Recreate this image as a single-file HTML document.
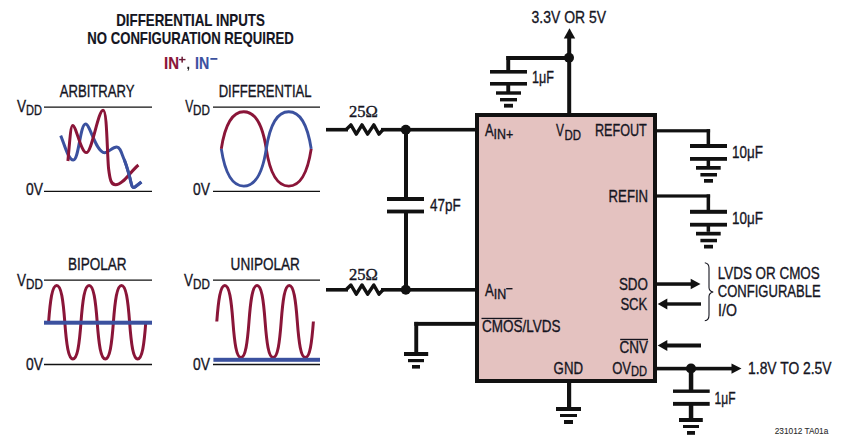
<!DOCTYPE html>
<html><head><meta charset="utf-8"><style>
html,body{margin:0;padding:0;background:#fff;}
svg{display:block;}
text{font-family:"Liberation Sans",sans-serif;}
</style></head><body>
<svg width="847" height="442" viewBox="0 0 847 442">
<rect width="847" height="442" fill="#fff"/>
<text x="116.20" y="25.50" font-size="15.99" textLength="148.70" lengthAdjust="spacingAndGlyphs" font-weight="bold" fill="#15151f" stroke="#15151f" stroke-width="0.15">DIFFERENTIAL INPUTS</text>
<text x="87.30" y="43.50" font-size="15.99" textLength="206.40" lengthAdjust="spacingAndGlyphs" font-weight="bold" fill="#15151f" stroke="#15151f" stroke-width="0.15">NO CONFIGURATION REQUIRED</text>
<text x="164.00" y="68.60" font-size="16.86" textLength="15.00" lengthAdjust="spacingAndGlyphs" font-weight="bold" fill="#8a1538" stroke="#8a1538" stroke-width="0.15">IN</text>
<rect x="179.1" y="58.9" width="6.4" height="1.4" fill="#6a1a35"/>
<rect x="181.4" y="56.7" width="1.5" height="5.9" fill="#6a1a35"/>
<path d="M187.4,66.8 h1.8 v1.9 q0,1.6 -1.2,2.2 l-0.4,-0.5 q0.6,-0.4 0.7,-1.3 h-0.9 z" fill="#222"/>
<text x="195.00" y="68.60" font-size="16.86" textLength="14.20" lengthAdjust="spacingAndGlyphs" font-weight="bold" fill="#3b519f" stroke="#3b519f" stroke-width="0.15">IN</text>
<rect x="210.4" y="58.0" width="7.0" height="1.8" fill="#3b519f"/>
<text x="59.70" y="96.80" font-size="16.72" textLength="74.80" lengthAdjust="spacingAndGlyphs" fill="#15151f" stroke="#15151f" stroke-width="0.35">ARBITRARY</text>
<text x="17.10" y="111.80" font-size="17.01" textLength="9.10" lengthAdjust="spacingAndGlyphs" fill="#15151f" stroke="#15151f" stroke-width="0.35">V</text>
<text x="26.06" y="114.60" font-size="13.81" textLength="15.95" lengthAdjust="spacingAndGlyphs" fill="#15151f" stroke="#15151f" stroke-width="0.35">DD</text>
<line x1="44" y1="107.2" x2="152" y2="107.2" stroke="#111" stroke-width="1.3"/>
<text x="26.04" y="194.80" font-size="17.15" textLength="16.94" lengthAdjust="spacingAndGlyphs" fill="#15151f" stroke="#15151f" stroke-width="0.35">0V</text>
<line x1="44" y1="191.3" x2="152" y2="191.3" stroke="#111" stroke-width="1.3"/>
<text x="218.70" y="97.00" font-size="16.72" textLength="92.90" lengthAdjust="spacingAndGlyphs" fill="#15151f" stroke="#15151f" stroke-width="0.35">DIFFERENTIAL</text>
<text x="185.20" y="111.80" font-size="17.01" textLength="8.08" lengthAdjust="spacingAndGlyphs" fill="#15151f" stroke="#15151f" stroke-width="0.35">V</text>
<text x="193.09" y="114.60" font-size="13.81" textLength="16.83" lengthAdjust="spacingAndGlyphs" fill="#15151f" stroke="#15151f" stroke-width="0.35">DD</text>
<line x1="213" y1="107.2" x2="320" y2="107.2" stroke="#111" stroke-width="1.3"/>
<text x="193.06" y="194.80" font-size="17.15" textLength="16.93" lengthAdjust="spacingAndGlyphs" fill="#15151f" stroke="#15151f" stroke-width="0.35">0V</text>
<line x1="213" y1="191.3" x2="320" y2="191.3" stroke="#111" stroke-width="1.3"/>
<text x="67.90" y="270.00" font-size="16.72" textLength="58.60" lengthAdjust="spacingAndGlyphs" fill="#15151f" stroke="#15151f" stroke-width="0.35">BIPOLAR</text>
<text x="17.00" y="285.80" font-size="17.01" textLength="9.02" lengthAdjust="spacingAndGlyphs" fill="#15151f" stroke="#15151f" stroke-width="0.35">V</text>
<text x="26.06" y="288.80" font-size="13.81" textLength="16.87" lengthAdjust="spacingAndGlyphs" fill="#15151f" stroke="#15151f" stroke-width="0.35">DD</text>
<line x1="44" y1="280.2" x2="152" y2="280.2" stroke="#111" stroke-width="1.3"/>
<text x="26.04" y="369.60" font-size="17.15" textLength="16.94" lengthAdjust="spacingAndGlyphs" fill="#15151f" stroke="#15151f" stroke-width="0.35">0V</text>
<line x1="44" y1="364.5" x2="152" y2="364.5" stroke="#111" stroke-width="1.3"/>
<text x="230.60" y="270.00" font-size="16.72" textLength="69.30" lengthAdjust="spacingAndGlyphs" fill="#15151f" stroke="#15151f" stroke-width="0.35">UNIPOLAR</text>
<text x="184.06" y="285.80" font-size="17.01" textLength="8.97" lengthAdjust="spacingAndGlyphs" fill="#15151f" stroke="#15151f" stroke-width="0.35">V</text>
<text x="193.09" y="288.80" font-size="13.81" textLength="16.83" lengthAdjust="spacingAndGlyphs" fill="#15151f" stroke="#15151f" stroke-width="0.35">DD</text>
<line x1="213" y1="280.2" x2="320" y2="280.2" stroke="#111" stroke-width="1.3"/>
<text x="193.06" y="369.60" font-size="17.15" textLength="16.93" lengthAdjust="spacingAndGlyphs" fill="#15151f" stroke="#15151f" stroke-width="0.35">0V</text>
<line x1="213" y1="364.5" x2="320" y2="364.5" stroke="#111" stroke-width="1.3"/>
<path d="M221.30,148.90 C224.67,126.58 231.41,111.70 243.78,111.70 C256.14,111.70 262.88,126.58 266.25,148.90 C269.62,171.22 276.36,186.10 288.73,186.10 C301.09,186.10 307.83,171.22 311.20,148.90" fill="none" stroke="#8a1538" stroke-width="2.9"/>
<path d="M221.30,148.90 C224.67,171.22 231.41,186.10 243.78,186.10 C256.14,186.10 262.88,171.22 266.25,148.90 C269.62,126.58 276.36,111.70 288.73,111.70 C301.09,111.70 307.83,126.58 311.20,148.90" fill="none" stroke="#3b519f" stroke-width="2.9"/>
<path d="M48.60,322.20 C50.22,300.12 52.25,285.40 56.70,285.40 C61.16,285.40 63.18,300.12 64.80,322.20 C66.42,344.28 68.44,359.00 72.90,359.00 C77.35,359.00 79.38,344.28 81.00,322.20 C82.62,300.12 84.64,285.40 89.10,285.40 C93.55,285.40 95.58,300.12 97.20,322.20 C98.82,344.28 100.84,359.00 105.30,359.00 C109.75,359.00 111.78,344.28 113.40,322.20 C115.02,300.12 117.05,285.40 121.50,285.40 C125.95,285.40 127.98,300.12 129.60,322.20 C131.22,344.28 133.24,359.00 137.70,359.00 C142.16,359.00 144.18,344.28 145.80,322.20" fill="none" stroke="#8a1538" stroke-width="3"/>
<rect x="44" y="320.7" width="108" height="4.0" fill="#3b519f"/>
<path d="M216.80,321.50 C218.41,299.90 220.42,285.50 224.85,285.50 C229.28,285.50 231.29,299.90 232.90,321.50 C234.51,343.10 236.52,357.50 240.95,357.50 C245.38,357.50 247.39,343.10 249.00,321.50 C250.61,299.90 252.62,285.50 257.05,285.50 C261.48,285.50 263.49,299.90 265.10,321.50 C266.71,343.10 268.72,357.50 273.15,357.50 C277.58,357.50 279.59,343.10 281.20,321.50 C282.81,299.90 284.82,285.50 289.25,285.50 C293.68,285.50 295.69,299.90 297.30,321.50 C298.91,343.10 300.92,357.50 305.35,357.50 C309.78,357.50 311.79,343.10 313.40,321.50" fill="none" stroke="#8a1538" stroke-width="3"/>
<rect x="213.4" y="357.8" width="106.6" height="4.0" fill="#3b519f"/>
<path d="M60.7,135.6 C64,143 68,160 73.3,160 C79,160 80,124 85.6,124 C90,124 96,152.7 104.5,152.7 C109,152.7 112,147 116.7,147 C120.5,147 122,155 124.4,160 C127,167 130,178 131.5,184.5 C132.2,187.5 133.5,188 135,187 L141.4,182" fill="none" stroke="#3b519f" stroke-width="3"/>
<path d="M67.9,161 C69.5,145 70.5,125.4 72.7,125.4 C76,125.4 81,152.6 86.3,152.6 C92,152.6 98,110.2 103.1,110.2 C107,110.2 107,150 108.5,168 C110,180 111,184.8 115.6,184.8 C123,184.8 130,172 138.4,165" fill="none" stroke="#8a1538" stroke-width="3"/>
<path d="M124.4,160 C127,167 130,178 131.5,184.5 C132.2,187.5 133.5,188 135,187 L141.4,182" fill="none" stroke="#3b519f" stroke-width="3"/>
<rect x="477" y="115" width="178" height="266" fill="#e4c2c0" stroke="#111" stroke-width="4"/>
<text x="484.90" y="136.20" font-size="16.72" textLength="8.60" lengthAdjust="spacingAndGlyphs" fill="#15151f" stroke="#15151f" stroke-width="0.35">A</text>
<text x="493.50" y="138.80" font-size="13.95" textLength="19.70" lengthAdjust="spacingAndGlyphs" fill="#15151f" stroke="#15151f" stroke-width="0.35">IN+</text>
<text x="556.00" y="136.20" font-size="16.72" textLength="8.00" lengthAdjust="spacingAndGlyphs" fill="#15151f" stroke="#15151f" stroke-width="0.35">V</text>
<text x="564.50" y="140.00" font-size="13.95" textLength="16.50" lengthAdjust="spacingAndGlyphs" fill="#15151f" stroke="#15151f" stroke-width="0.35">DD</text>
<text x="594.90" y="136.20" font-size="16.72" textLength="51.90" lengthAdjust="spacingAndGlyphs" fill="#15151f" stroke="#15151f" stroke-width="0.35">REFOUT</text>
<text x="608.60" y="201.70" font-size="16.72" textLength="39.50" lengthAdjust="spacingAndGlyphs" fill="#15151f" stroke="#15151f" stroke-width="0.35">REFIN</text>
<text x="485.10" y="295.70" font-size="16.72" textLength="8.70" lengthAdjust="spacingAndGlyphs" fill="#15151f" stroke="#15151f" stroke-width="0.35">A</text>
<text x="493.70" y="298.80" font-size="13.95" textLength="12.50" lengthAdjust="spacingAndGlyphs" fill="#15151f" stroke="#15151f" stroke-width="0.35">IN</text>
<rect x="506.2" y="288.0" width="6.3" height="1.4" fill="#15151f"/>
<text x="482.04" y="331.80" font-size="17.30" textLength="78.42" lengthAdjust="spacingAndGlyphs" fill="#15151f" stroke="#15151f" stroke-width="0.35">CMOS/LVDS</text>
<rect x="481.5" y="317.8" width="40.9" height="1.3" fill="#15151f"/>
<text x="618.90" y="289.50" font-size="16.72" textLength="29.00" lengthAdjust="spacingAndGlyphs" fill="#15151f" stroke="#15151f" stroke-width="0.35">SDO</text>
<text x="620.40" y="309.60" font-size="16.72" textLength="26.90" lengthAdjust="spacingAndGlyphs" fill="#15151f" stroke="#15151f" stroke-width="0.35">SCK</text>
<text x="619.60" y="352.60" font-size="15.84" textLength="28.40" lengthAdjust="spacingAndGlyphs" fill="#15151f" stroke="#15151f" stroke-width="0.35">CNV</text>
<rect x="620.2" y="338.8" width="27.8" height="1.4" fill="#15151f"/>
<text x="612.20" y="373.60" font-size="16.72" textLength="18.90" lengthAdjust="spacingAndGlyphs" fill="#15151f" stroke="#15151f" stroke-width="0.35">OV</text>
<text x="630.90" y="376.00" font-size="13.95" textLength="16.10" lengthAdjust="spacingAndGlyphs" fill="#15151f" stroke="#15151f" stroke-width="0.35">DD</text>
<text x="553.60" y="373.80" font-size="16.72" textLength="29.40" lengthAdjust="spacingAndGlyphs" fill="#15151f" stroke="#15151f" stroke-width="0.35">GND</text>
<text x="531.60" y="22.80" font-size="16.72" textLength="74.40" lengthAdjust="spacingAndGlyphs" fill="#15151f" stroke="#15151f" stroke-width="0.35">3.3V OR 5V</text>
<polygon points="569.5,28.3 563.8,38.6 575.2,38.6" fill="#111"/>
<rect x="567.2" y="38" width="4.0" height="75" fill="#111"/>
<circle cx="569" cy="57.8" r="5" fill="#111"/>
<rect x="506.3" y="56" width="62.7" height="4" fill="#111"/>
<rect x="506.3" y="56" width="3.9" height="15.5" fill="#111"/>
<rect x="490" y="70" width="37" height="3.6" fill="#111"/>
<rect x="490" y="82" width="37" height="3.6" fill="#111"/>
<rect x="506.3" y="85" width="3.9" height="7" fill="#111"/>
<rect x="496" y="91.3" width="25" height="3.4" fill="#111"/>
<rect x="500" y="98" width="17" height="3.4" fill="#111"/>
<rect x="504" y="103.8" width="9" height="3.8" fill="#111"/>
<text x="532.10" y="82.60" font-size="16.72" textLength="21.90" lengthAdjust="spacingAndGlyphs" fill="#15151f" stroke="#15151f" stroke-width="0.35">1μF</text>
<rect x="326" y="127.89999999999999" width="22" height="3.6" fill="#111"/>
<polyline points="346,129.7 350.9,124.89999999999999 356.3,134.1 362,124.89999999999999 367.6,134.1 373.8,124.89999999999999 379,134.1 383,129.7" fill="none" stroke="#111" stroke-width="3.4" stroke-linejoin="round"/>
<rect x="381" y="127.89999999999999" width="96" height="3.6" fill="#111"/>
<circle cx="405.8" cy="129.7" r="5" fill="#111"/>
<rect x="326" y="288.0" width="22" height="3.6" fill="#111"/>
<polyline points="346,289.8 350.9,285.0 356.3,294.2 362,285.0 367.6,294.2 373.8,285.0 379,294.2 383,289.8" fill="none" stroke="#111" stroke-width="3.4" stroke-linejoin="round"/>
<rect x="381" y="288.0" width="96" height="3.6" fill="#111"/>
<circle cx="405.8" cy="289.8" r="5" fill="#111"/>
<text x="349.05" y="117.20" font-size="15.71" textLength="28.85" lengthAdjust="spacingAndGlyphs" style="font-family:'Liberation Serif',serif" fill="#15151f" stroke="#15151f" stroke-width="0.35">25Ω</text>
<text x="349.05" y="280.40" font-size="15.71" textLength="28.85" lengthAdjust="spacingAndGlyphs" style="font-family:'Liberation Serif',serif" fill="#15151f" stroke="#15151f" stroke-width="0.35">25Ω</text>
<rect x="404" y="130" width="4" height="67" fill="#111"/>
<rect x="387" y="197" width="37" height="4" fill="#111"/>
<rect x="387" y="209.6" width="37" height="3.8" fill="#111"/>
<rect x="404" y="213" width="4" height="77" fill="#111"/>
<text x="430.00" y="210.50" font-size="16.72" textLength="30.60" lengthAdjust="spacingAndGlyphs" fill="#15151f" stroke="#15151f" stroke-width="0.35">47pF</text>
<rect x="414.3" y="321.9" width="62.7" height="3.9" fill="#111"/>
<rect x="414.3" y="321.9" width="3.9" height="30.1" fill="#111"/>
<rect x="404" y="352" width="24.2" height="4" fill="#111"/>
<rect x="408" y="359" width="16" height="3.2" fill="#111"/>
<rect x="412" y="365" width="8" height="3.6" fill="#111"/>
<rect x="567" y="381" width="4.2" height="26" fill="#111"/>
<rect x="556" y="407" width="25" height="4" fill="#111"/>
<rect x="560" y="414" width="17" height="3" fill="#111"/>
<rect x="564" y="420" width="9" height="4" fill="#111"/>
<rect x="655" y="129.20000000000002" width="55.1" height="3.2" fill="#111"/>
<rect x="706.6" y="129.20000000000002" width="3.5" height="15.0" fill="#111"/>
<rect x="690" y="144" width="37" height="4" fill="#111"/>
<rect x="690" y="157" width="37" height="3.8" fill="#111"/>
<rect x="706.6" y="160" width="3.5" height="6" fill="#111"/>
<rect x="696" y="166" width="24.7" height="3.7" fill="#111"/>
<rect x="700.4" y="173" width="16.6" height="3.5" fill="#111"/>
<rect x="704" y="179" width="9" height="3.7" fill="#111"/>
<text x="732.10" y="157.90" font-size="16.72" textLength="30.85" lengthAdjust="spacingAndGlyphs" fill="#15151f" stroke="#15151f" stroke-width="0.35">10μF</text>
<rect x="655" y="194.4" width="55.1" height="3.2" fill="#111"/>
<rect x="706.6" y="194.4" width="3.5" height="15.6" fill="#111"/>
<rect x="690" y="209.8" width="37" height="4.0" fill="#111"/>
<rect x="690" y="222.8" width="37" height="3.8" fill="#111"/>
<rect x="706.6" y="225.8" width="3.5" height="6.0" fill="#111"/>
<rect x="696" y="231.8" width="24.7" height="3.7" fill="#111"/>
<rect x="700.4" y="238.8" width="16.6" height="3.5" fill="#111"/>
<rect x="704" y="244.8" width="9" height="3.7" fill="#111"/>
<text x="732.10" y="223.80" font-size="16.72" textLength="30.85" lengthAdjust="spacingAndGlyphs" fill="#15151f" stroke="#15151f" stroke-width="0.35">10μF</text>
<rect x="655" y="282.3" width="37" height="3.5" fill="#111"/>
<polygon points="700.5,284 690.7,278.8 690.7,289.2" fill="#111"/>
<rect x="666" y="302.3" width="35" height="3.4" fill="#111"/>
<polygon points="657.7,304 667.3,298.6 667.3,309.4" fill="#111"/>
<rect x="666" y="343.5" width="35" height="4.0" fill="#111"/>
<polygon points="657.7,345.5 667.3,340.1 667.3,350.9" fill="#111"/>
<path d="M704.8,262.8 Q709,263.5 709,268 L709,287.4 Q709,291 713.2,292 Q709,293 709,296.6 L709,315 Q709,320.3 704.8,320.8" fill="none" stroke="#15151f" stroke-width="1.1"/>
<text x="717.80" y="278.70" font-size="16.72" textLength="101.90" lengthAdjust="spacingAndGlyphs" fill="#15151f" stroke="#15151f" stroke-width="0.35">LVDS OR CMOS</text>
<text x="717.80" y="297.30" font-size="16.72" textLength="102.90" lengthAdjust="spacingAndGlyphs" fill="#15151f" stroke="#15151f" stroke-width="0.35">CONFIGURABLE</text>
<text x="718.10" y="315.80" font-size="16.72" textLength="18.80" lengthAdjust="spacingAndGlyphs" fill="#15151f" stroke="#15151f" stroke-width="0.35">I/O</text>
<rect x="655" y="366.8" width="78" height="3.6" fill="#111"/>
<polygon points="741.5,368.6 731.5,363.5 731.5,373.7" fill="#111"/>
<circle cx="691" cy="368.5" r="5.1" fill="#111"/>
<rect x="688.8" y="368" width="4.5" height="22" fill="#111"/>
<rect x="673" y="389.5" width="36.7" height="3.4" fill="#111"/>
<rect x="673" y="401.9" width="36.7" height="3.9" fill="#111"/>
<rect x="688.8" y="405" width="4.5" height="13" fill="#111"/>
<rect x="679" y="418" width="23.8" height="4" fill="#111"/>
<rect x="683" y="425" width="16" height="3" fill="#111"/>
<rect x="687" y="431" width="8" height="3.8" fill="#111"/>
<text x="714.60" y="403.75" font-size="16.72" textLength="21.00" lengthAdjust="spacingAndGlyphs" fill="#15151f" stroke="#15151f" stroke-width="0.35">1μF</text>
<text x="748.10" y="374.00" font-size="16.72" textLength="83.40" lengthAdjust="spacingAndGlyphs" fill="#15151f" stroke="#15151f" stroke-width="0.35">1.8V TO 2.5V</text>
<text x="774.72" y="433.60" font-size="9.59" textLength="53.54" lengthAdjust="spacingAndGlyphs" fill="#2a2a2a" stroke="#2a2a2a" stroke-width="0.1">231012 TA01a</text>
</svg></body></html>
